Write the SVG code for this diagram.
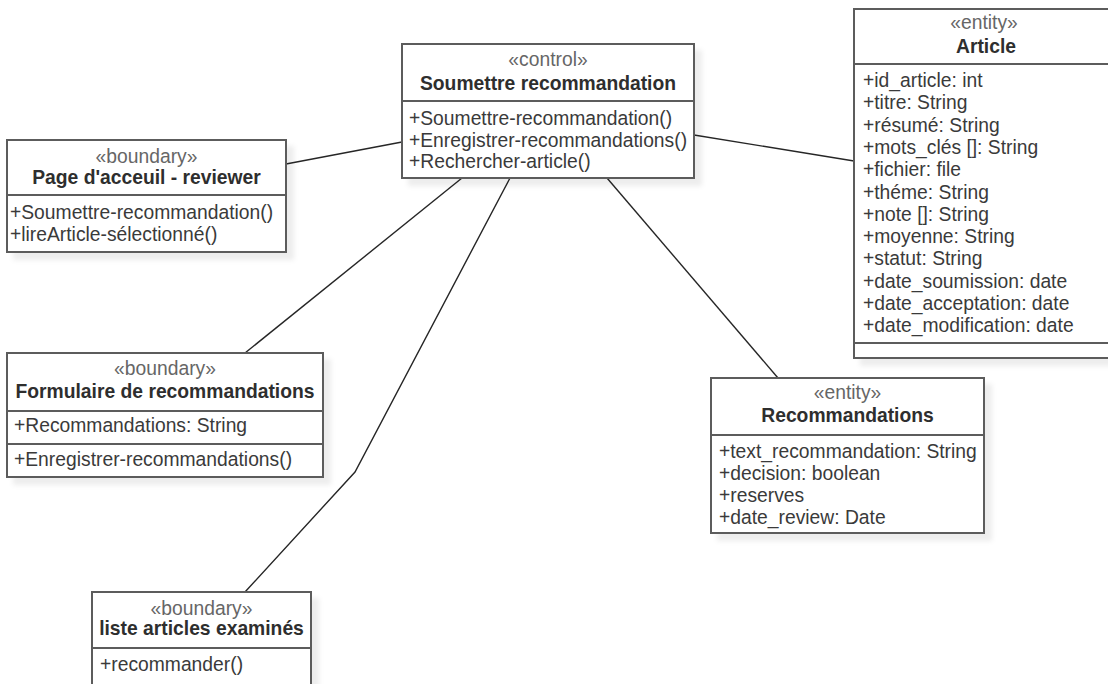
<svg xmlns="http://www.w3.org/2000/svg" width="1108" height="684" viewBox="0 0 1108 684">
  <defs>
    <filter id="shadow" x="-10%" y="-10%" width="130%" height="130%">
      <feDropShadow dx="7" dy="7" stdDeviation="2.5" flood-color="#000" flood-opacity="0.07"/>
    </filter>
  </defs>
  <style>
    .box { fill: #ffffff; stroke: #5c5c5c; stroke-width: 2; filter: url(#shadow); }
    .sep { stroke: #5c5c5c; stroke-width: 2; fill: none; }
    .edge { stroke: #262626; stroke-width: 1.4; fill: none; }
    text { font-family: "Liberation Sans", Arial, sans-serif; font-size: 19.3px; fill: #3a3a3a; }
    .st { fill: #666666; text-anchor: middle; }
    .ti { font-weight: bold; fill: #2e2e2e; text-anchor: middle; }
  </style>

  <rect width="1108" height="684" fill="#ffffff"/>

  <!-- associations -->
  <g id="connectors">
    <line class="edge" x1="286" y1="164" x2="402" y2="142"/>
    <line class="edge" x1="694" y1="135" x2="854" y2="161"/>
    <line class="edge" x1="462" y1="178" x2="245" y2="353"/>
    <polyline class="edge" points="510,178 355,472 245,592"/>
    <line class="edge" x1="607" y1="178" x2="778" y2="378"/>
  </g>

  <!-- control class -->
  <g id="soumettre-recommandation">
    <rect class="box" x="402" y="44" width="292" height="134"/>
    <line class="sep" x1="402" y1="101" x2="694" y2="101"/>
    <text class="st" x="548" y="66">«control»</text>
    <text class="ti" x="548" y="89.5">Soumettre recommandation</text>
    <text x="409" y="125">+Soumettre-recommandation()</text>
    <text x="409" y="146.5">+Enregistrer-recommandations()</text>
    <text x="409" y="168">+Rechercher-article()</text>
  </g>

  <!-- boundary: home page -->
  <g id="page-accueil">
    <rect class="box" x="7" y="140" width="279" height="112"/>
    <line class="sep" x1="7" y1="195" x2="286" y2="195"/>
    <text class="st" x="146.5" y="163">«boundary»</text>
    <text class="ti" x="146.5" y="184">Page d'acceuil - reviewer</text>
    <text x="10" y="219">+Soumettre-recommandation()</text>
    <text x="10" y="241">+lireArticle-sélectionné()</text>
  </g>

  <!-- entity: article -->
  <g id="article">
    <rect class="box" x="854" y="9" width="262" height="349"/>
    <line class="sep" x1="854" y1="64" x2="1116" y2="64"/>
    <line class="sep" x1="854" y1="343" x2="1116" y2="343"/>
    <text class="st" x="984" y="29">«entity»</text>
    <text class="ti" x="986" y="53">Article</text>
    <text x="863" y="87">+id_article: int</text>
    <text x="863" y="109.3">+titre: String</text>
    <text x="863" y="131.6">+résumé: String</text>
    <text x="863" y="153.9">+mots_clés []: String</text>
    <text x="863" y="176.2">+fichier: file</text>
    <text x="863" y="198.5">+théme: String</text>
    <text x="863" y="220.8">+note []: String</text>
    <text x="863" y="243.1">+moyenne: String</text>
    <text x="863" y="265.4">+statut: String</text>
    <text x="863" y="287.7">+date_soumission: date</text>
    <text x="863" y="310">+date_acceptation: date</text>
    <text x="863" y="332.3">+date_modification: date</text>
  </g>

  <!-- boundary: recommendation form -->
  <g id="formulaire-recommandations">
    <rect class="box" x="7" y="353" width="316" height="124"/>
    <line class="sep" x1="7" y1="411" x2="323" y2="411"/>
    <line class="sep" x1="7" y1="444" x2="323" y2="444"/>
    <text class="st" x="165" y="375">«boundary»</text>
    <text class="ti" x="165" y="398">Formulaire de recommandations</text>
    <text x="14" y="432">+Recommandations: String</text>
    <text x="14" y="466">+Enregistrer-recommandations()</text>
  </g>

  <!-- entity: recommendations -->
  <g id="recommandations">
    <rect class="box" x="711" y="378" width="273" height="155"/>
    <line class="sep" x1="711" y1="435" x2="984" y2="435"/>
    <text class="st" x="847.5" y="399">«entity»</text>
    <text class="ti" x="847.5" y="422">Recommandations</text>
    <text x="719" y="458">+text_recommandation: String</text>
    <text x="719" y="480">+decision: boolean</text>
    <text x="719" y="502">+reserves</text>
    <text x="719" y="524">+date_review: Date</text>
  </g>

  <!-- boundary: reviewed articles list -->
  <g id="liste-articles-examines">
    <rect class="box" x="92" y="592" width="219" height="110"/>
    <line class="sep" x1="92" y1="648" x2="311" y2="648"/>
    <text class="st" x="201.5" y="615">«boundary»</text>
    <text class="ti" x="201.5" y="635">liste articles examinés</text>
    <text x="100" y="671">+recommander()</text>
  </g>
</svg>
